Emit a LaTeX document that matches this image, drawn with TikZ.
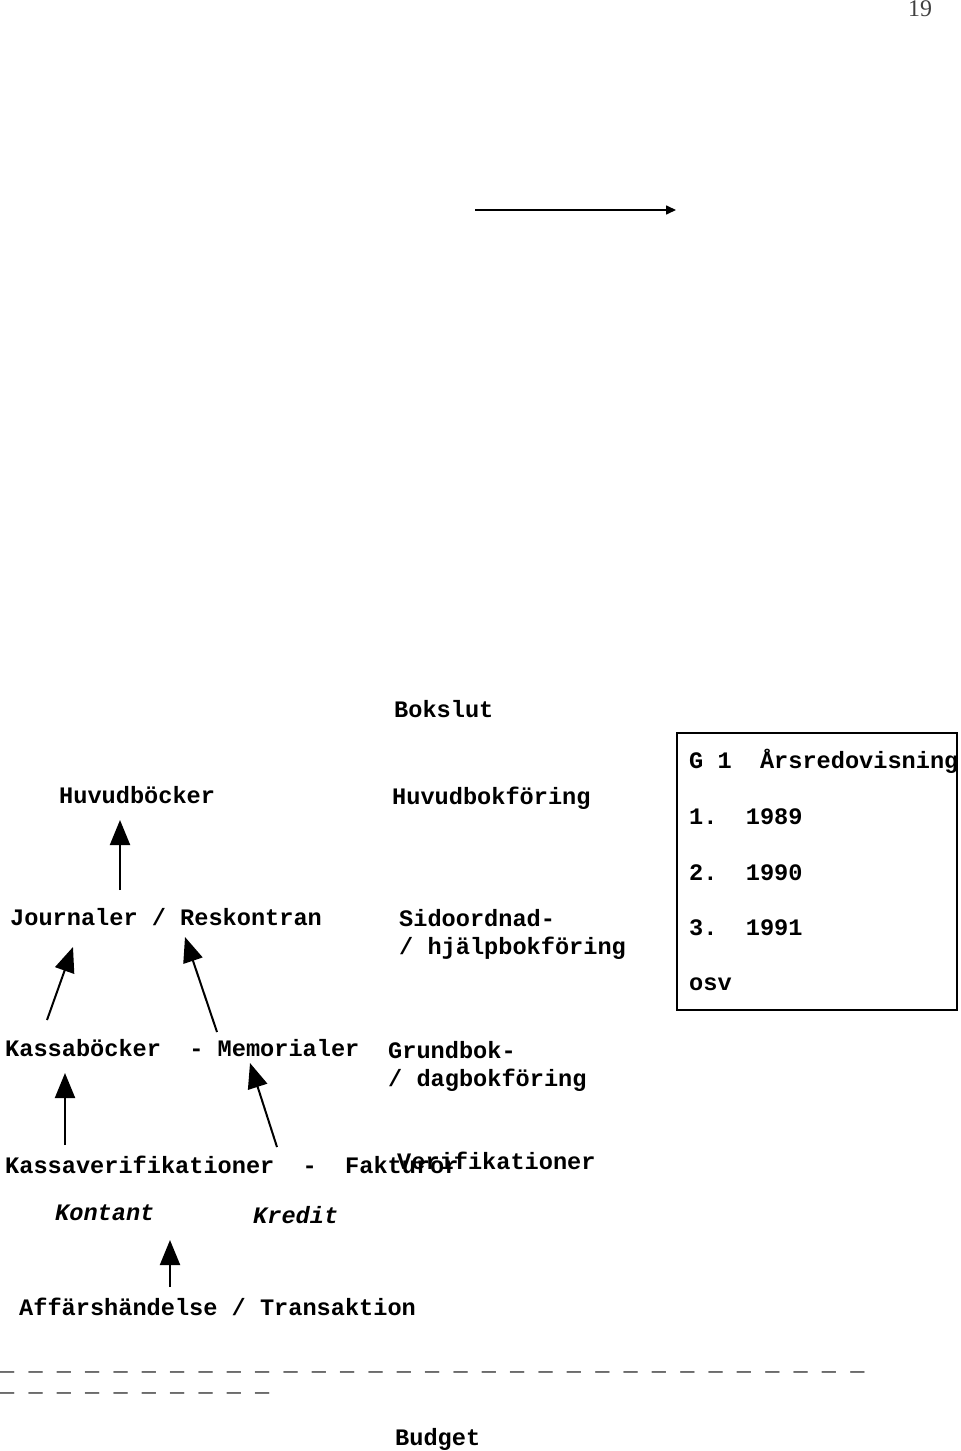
\documentclass[tikz,border=0pt]{standalone}
\usepackage{fontspec}
\setmonofont{Liberation Mono}
\newfontfamily\pagenumfont{Liberation Serif}
\usetikzlibrary{arrows.meta}
\begin{document}
\begin{tikzpicture}[x=1bp,y=-1bp,
  lbl/.style={anchor=base west, inner sep=0pt, font=\ttfamily\bfseries\fontsize{23.7}{28}\selectfont},
  ital/.style={lbl, font=\ttfamily\bfseries\itshape\fontsize{23.7}{28}\selectfont},
  uparrow/.style={line width=2bp, -{Triangle[length=25bp,width=20bp]}},
  flowarrow/.style={line width=1.6bp, -{Triangle[length=10bp,width=9bp]}},
  framebox/.style={draw, line width=2.5bp}]
\useasboundingbox (0,0) rectangle (960,1451);

\node[anchor=base west, inner sep=0pt, text=black!75, font=\pagenumfont\fontsize{24}{28}\selectfont] (pagenum) at (908,17) {19};

% top arrow
\coordinate (ta1) at (475,210);
\coordinate (ta2) at (676,210);
\draw[flowarrow] (ta1) -- (ta2);

% right column labels
\node[lbl] (bokslut) at (394,717) {Bokslut};
\node[lbl] (huvudbokf) at (392,804) {Huvudbokföring};
\node[lbl] (sido1) at (399,926) {Sidoordnad-};
\node[lbl] (sido2) at (399,954) {/ hjälpbokföring};
\node[lbl] (grund1) at (388,1058) {Grundbok-};
\node[lbl] (grund2) at (388,1086) {/ dagbokföring};
\node[lbl] (verif) at (397,1169) {Verifikationer};

% box
\draw[framebox] (677,733) rectangle (957,1010);
\node[lbl] (g1) at (689,768) {G~1~~Årsredovisning};
\node[lbl] (y1) at (689,824) {1.~~1989};
\node[lbl] (y2) at (689,880) {2.~~1990};
\node[lbl] (y3) at (689,935) {3.~~1991};
\node[lbl] (osv) at (689,990) {osv};

% left column
\node[lbl] (huvudb) at (59,803) {Huvudböcker};
\node[lbl] (journ) at (10,925) {Journaler~/~Reskontran};
\node[lbl] (kassab) at (5,1056) {Kassaböcker~~-~Memorialer};
\node[lbl] (kassav) at (5,1173) {Kassaverifikationer~~-~~Fakturor};
\node[ital] (kontant) at (55,1220) {Kontant};
\node[ital] (kredit) at (253,1223) {Kredit};
\node[lbl] (affar) at (19,1315) {Affärshändelse~/~Transaktion};

% arrows
\coordinate (a1s) at (120,890); \coordinate (a1e) at (120,820);
\draw[uparrow] (a1s) -- (a1e);
\coordinate (a2s) at (47,1020); \coordinate (a2e) at (73,947);
\draw[uparrow] (a2s) -- (a2e);
\coordinate (a3s) at (217,1032); \coordinate (a3e) at (185,937);
\draw[uparrow] (a3s) -- (a3e);
\coordinate (a4s) at (65,1145); \coordinate (a4e) at (65,1073);
\draw[uparrow] (a4s) -- (a4e);
\coordinate (a5s) at (277,1147); \coordinate (a5e) at (250,1063);
\draw[uparrow] (a5s) -- (a5e);
\coordinate (a6s) at (170,1287); \coordinate (a6e) at (170,1240);
\draw[uparrow] (a6s) -- (a6e);

% dashed rule lines
\node[lbl, font=\ttfamily\fontsize{23.7}{28}\selectfont] (dash1) at (0,1370) {\_ \_ \_ \_ \_ \_ \_ \_ \_ \_ \_ \_ \_ \_ \_ \_ \_ \_ \_ \_ \_ \_ \_ \_ \_ \_ \_ \_ \_ \_ \_};
\node[lbl, font=\ttfamily\fontsize{23.7}{28}\selectfont] (dash2) at (0,1391) {\_ \_ \_ \_ \_ \_ \_ \_ \_ \_};

\node[lbl] (budget) at (395,1445) {Budget};
\end{tikzpicture}
\end{document}
